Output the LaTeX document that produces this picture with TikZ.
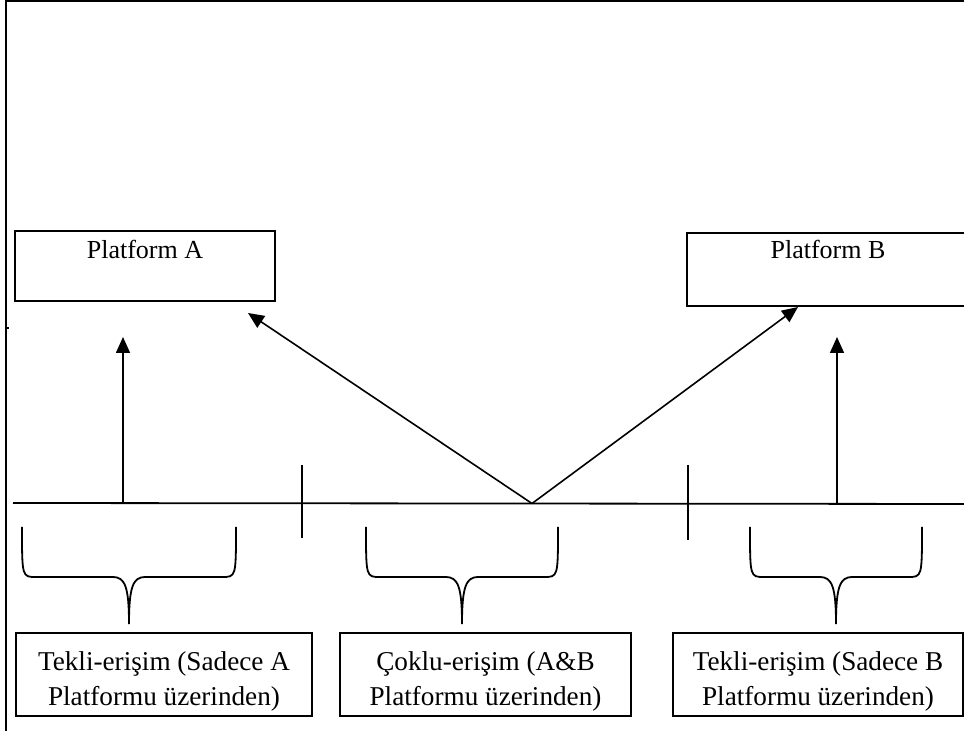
\documentclass[tikz,border=0pt]{standalone}
\usepackage{fontspec}
\setmainfont{Liberation Serif}
\usetikzlibrary{arrows.meta}
\newcommand\accesstext[2]{\begin{tabular}{@{}c@{}}#1\\#2\end{tabular}}
\tikzset{
  platbox/.style={draw, line width=0.9pt, inner sep=0pt, minimum width=#1,
    font=\fontsize{13}{16}\selectfont},
  accessbox/.style={draw, line width=0.9pt, inner sep=0pt, minimum width=#1,
    text height=27.75pt, text depth=13.75pt, font=\fontsize{13.6}{17.5}\selectfont},
  arr/.style={-{Triangle[length=8pt,width=7pt]}, line width=0.8pt},
  brace/.style={line width=0.9pt},
}
\begin{document}
\begin{tikzpicture}[x=0.5pt, y=-0.5pt]
      \clip (0,0) rectangle (964,731);
      \fill[white] (0,0) rectangle (964,731);
      \draw[line width=1pt] (6,731) -- (6,1) -- (970,1);
      \draw[line width=1pt] (6,328) -- (9,328);
      \node[platbox=130pt, text height=14pt, text depth=21pt] (platA) at (145,266) {Platform A};
      \node[platbox=141pt, text height=13pt, text depth=23.5pt] (platB) at (828,269.5) {Platform B};
      \coordinate (axisL) at (13,503);
      \coordinate (axisR) at (970,504);
      \coordinate (hub) at (532,503.5);
      \coordinate (upA) at (123,503);
      \coordinate (upB) at (837,504);
      \coordinate (tipA) at (123,337);
      \coordinate (tipB) at (837,337);
      \coordinate (tipAB) at (248,313);
      \coordinate (tipBA) at (798,307);
      \draw[line width=0.9pt] (axisL) -- (axisR);
      \draw[line width=0.9pt] (302,465) -- (302,538);
      \draw[line width=0.9pt] (688,465) -- (688,540);
      \draw[arr] (upA) -- (tipA);
      \draw[arr] (upB) -- (tipB);
      \draw[arr] (hub) -- (tipAB);
      \draw[arr] (hub) -- (tipBA);
      \foreach \l/\c/\r in {22/129/236, 366/462/558, 750/836/922}
        \draw[brace] (\l,527) .. controls (\l,577) and (\l,577) .. (\l+14,577)
          -- (\c-16,577) .. controls (\c-4,577) and (\c,587) .. (\c,624)
          .. controls (\c,587) and (\c+4,577) .. (\c+16,577)
          -- (\r-14,577) .. controls (\r,577) and (\r,577) .. (\r,527);
      \node[accessbox=148pt] (tekliA) at (164,674.5) {\accesstext{Tekli-erişim (Sadece A}{Platformu üzerinden)}};
      \node[accessbox=145.5pt] (coklu) at (485.5,674.5) {\accesstext{Çoklu-erişim (A\&B}{Platformu üzerinden)}};
      \node[accessbox=145pt] (tekliB) at (818,674.5) {\accesstext{Tekli-erişim (Sadece B}{Platformu üzerinden)}};
    \end{tikzpicture}
\end{document}
